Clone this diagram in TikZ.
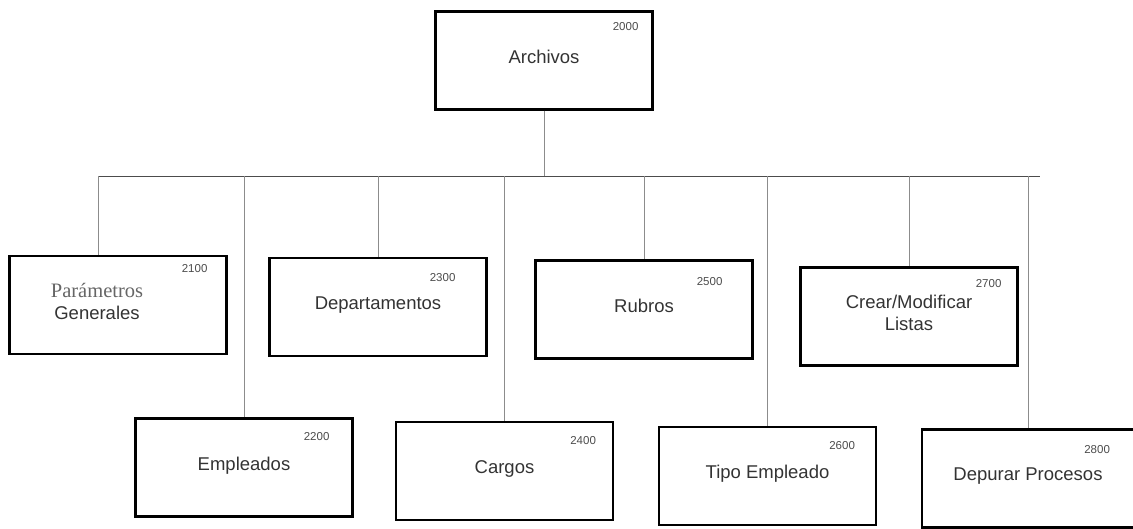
\documentclass[tikz,border=0pt]{standalone}
\usepackage{fontspec}
\setmainfont{Liberation Sans}
\newfontfamily\seriffam{Liberation Serif}

\tikzset{
  modbox/.style={draw, line width=2.2pt, minimum width=217pt, minimum height=98pt,
    inner sep=0pt, text depth=8pt, align=center, text=black!80,
    font=\fontsize{18.5}{22}\selectfont},
  modnum/.style={anchor=east, inner sep=0pt, text=black!70,
    font=\fontsize{11.5}{12}\selectfont},
  link/.style={draw=black!45, line width=0.7pt},
  busline/.style={draw=black!70, line width=0.9pt},
}

\begin{document}
\begin{tikzpicture}[
    x = 1pt,
    y = -1pt,
    ]
    \useasboundingbox (0,0) rectangle (1133,529);
    % top block
    \node[modbox] (b2000) at (544,60.5) {Archivos};
    % first row
    \node[modbox] (b2100) at (118,305)
      {\hspace*{-42pt}{\seriffam\fontsize{20.5}{22}\selectfont\color{black!60}Parámetros}\\
       \hspace*{-42pt}Generales};
    \node[modbox] (b2300) at (378,307) {Departamentos};
    \node[modbox] (b2500) at (644,309.5) {Rubros};
    \node[modbox] (b2700) at (909,316.5) {Crear/Modificar\\Listas};
    % second row
    \node[modbox] (b2200) at (244,467.5) {Empleados};
    \node[modbox] (b2400) at (504.5,471) {Cargos};
    \node[modbox] (b2600) at (767.5,476) {Tipo Empleado};
    \node[modbox, minimum width=212pt] (b2800) at (1028,478.5) {Depurar Procesos};
    % numbers
    \foreach \n/\dx/\dy in {2000/15/16, 2100/20/14, 2200/24/19, 2300/32/21, 2400/18/20,
                            2500/31/22, 2600/22/20, 2700/17/17, 2800/25/21}
    \node[modnum] (n\n) at ([xshift=-\dx pt, yshift=-\dy pt]b\n.north east) {\n};
    % bus
    \coordinate (busL) at (98,176);
    \coordinate (busR) at (1040,176);
    \draw[busline] (busL) -- (busR);
    \draw[link] (b2000.south) -- (b2000.south |- busL);
    % drops
    \draw[link] (busL) -- (busL |- b2100.north);
    \foreach \n in {2200, 2300, 2400, 2500, 2600, 2700, 2800}
    \draw[link] (b\n.north |- busL) -- (b\n.north);
  \end{tikzpicture}
\end{document}
